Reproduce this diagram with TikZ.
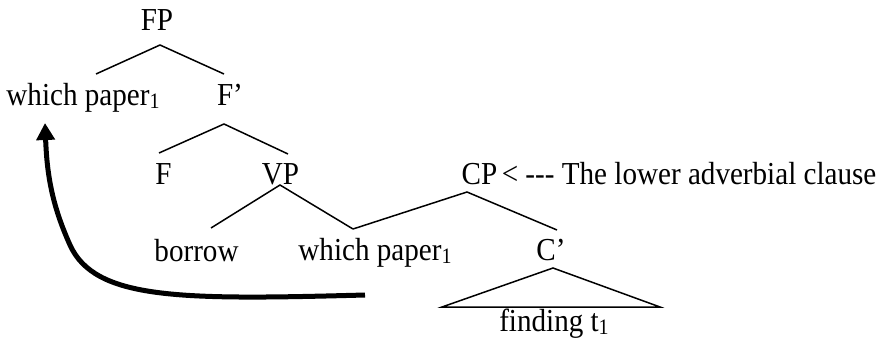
\documentclass[tikz,border=0pt]{standalone}
\usepackage{fontspec}
\setmainfont[FakeStretch=0.91]{Liberation Serif}
\usetikzlibrary{arrows.meta}

\newcommand\idx[1]{\raisebox{-3pt}{\fontsize{22}{22}\selectfont #1}}

\begin{document}
\begin{tikzpicture}[x=1pt, y=-1pt, line width=1.5pt,
		lab/.style={inner sep=0pt, anchor=base, font=\fontsize{32}{36}\selectfont}]
		\newcommand\branch[3]{ %% argument 1: mother point, arguments 2 and 3: daughter points
			\draw #2 -- #1 -- #3;
		}

		\useasboundingbox (0,0) rectangle (877,345);

		\node[lab] (fp) at (157,31) {FP};
		\node[lab] (wpa) at (83,105) {which paper\idx{1}};
		\node[lab] (fbar) at (230,105) {F’};
		\node[lab] (f) at (163.5,184) {F};
		\node[lab] (vp) at (280.5,184) {VP};
		\node[lab] (cp) at (479.5,184) {CP};
		\node[lab, anchor=base west] (note) at ([xshift=3pt]cp.base east) {< -{}-{}- The lower adverbial clause};
		\node[lab] (borrow) at (196.5,261) {borrow};
		\node[lab] (wpb) at (375,260) {which paper\idx{1}};
		\node[lab] (cbar) at (551,260) {C’};
		\node[lab] (fin) at (554,331) {finding t\idx{1}};

		\branch{([shift={(3,14)}]fp.base)}{([shift={(13,-31)}]wpa.base)}{([shift={(-6,-31)}]fbar.base)}
		\branch{([shift={(-6,19)}]fbar.base)}{([shift={(-4.5,-31)}]f.base)}{([shift={(7.5,-30)}]vp.base)}
		\branch{([shift={(-0.5,1)}]vp.base)}{([shift={(14.5,-33)}]borrow.base)}{([shift={(-22,-31)}]wpb.base)}
		\branch{([shift={(-12.5,8)}]cp.base)}{([shift={(-22,-31)}]wpb.base)}{([shift={(6,-30)}]cbar.base)}

		\draw ([shift={(2,8)}]cbar.base) -- ([shift={(-112,-24)}]fin.base) -- ([shift={(106,-24)}]fin.base) -- cycle;

		\draw[line width=5pt, -{Triangle[length=17pt,width=18pt]}] ([shift={(-10,35)}]wpb.base)
			.. controls (180,300) and (95,300) .. (70,245)
			.. controls (52,205) and (47,175) .. ([shift={(-38,18)}]wpa.base);
	\end{tikzpicture}
\end{document}
